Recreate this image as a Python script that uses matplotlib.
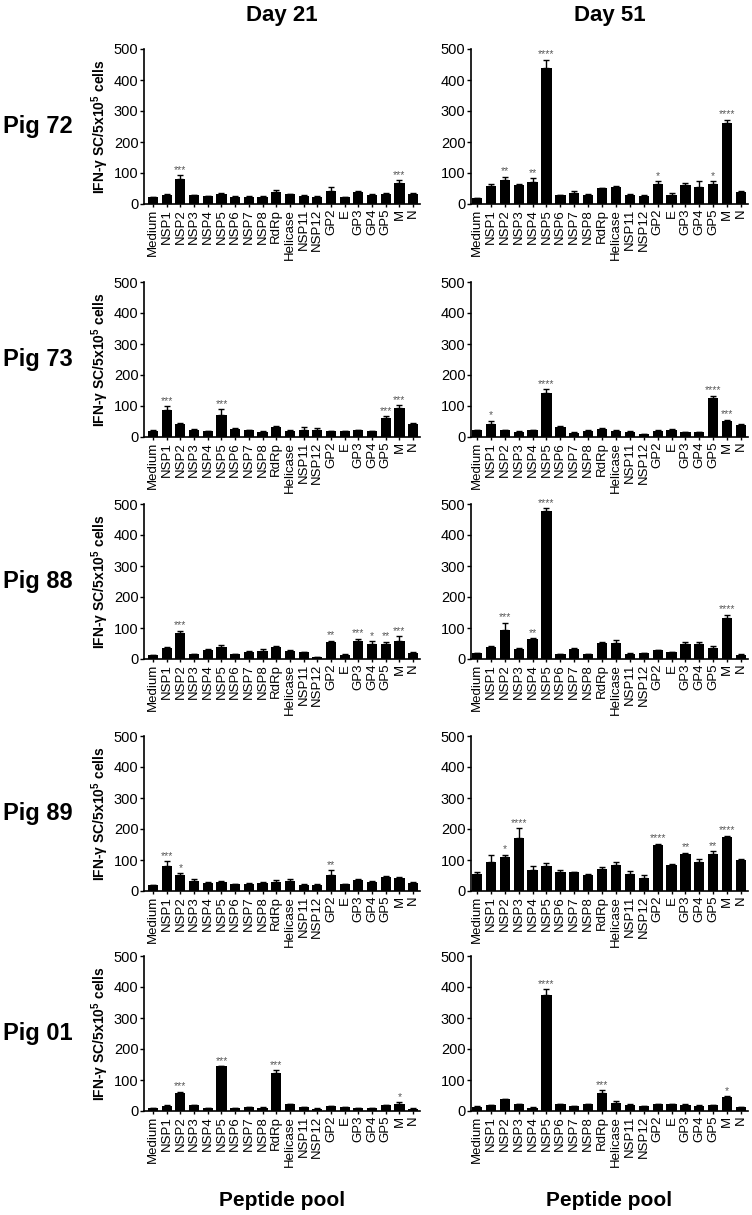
import numpy as np
import matplotlib
matplotlib.use('Agg')
import matplotlib.pyplot as plt

plt.rcParams['font.family'] = ['Liberation Sans', 'DejaVu Sans']
plt.rcParams['mathtext.fontset'] = 'custom'
plt.rcParams['mathtext.rm'] = 'Liberation Sans'
plt.rcParams['mathtext.bf'] = 'Liberation Sans:bold'

pools = ['Medium', 'NSP1', 'NSP2', 'NSP3', 'NSP4', 'NSP5', 'NSP6', 'NSP7', 'NSP8',
         'RdRp', 'Helicase', 'NSP11', 'NSP12', 'GP2', 'E', 'GP3', 'GP4', 'GP5', 'M', 'N']
pigs = ['Pig 72', 'Pig 73', 'Pig 88', 'Pig 89', 'Pig 01']
days = ['Day 21', 'Day 51']

# Pig 72
pig72_d21     = [22, 30, 80, 28, 25, 33, 24, 24, 24, 40, 31, 26, 24, 42, 21, 40, 30, 32, 68, 33]
pig72_d21_err = [2, 3, 12, 2, 2, 4, 2, 1, 1, 5, 2, 2, 2, 12, 2, 3, 3, 2, 8, 3]
pig72_d21_sig = {'NSP2': '***', 'M': '***'}
pig72_d51     = [18, 58, 78, 60, 71, 440, 28, 34, 30, 50, 55, 28, 25, 65, 29, 61, 55, 66, 260, 38]
pig72_d51_err = [1, 5, 10, 5, 12, 25, 2, 7, 3, 3, 4, 3, 3, 8, 8, 8, 18, 8, 12, 3]
pig72_d51_sig = {'NSP2': '**', 'NSP4': '**', 'NSP5': '****', 'GP2': '*', 'GP5': '*', 'M': '****'}

# Pig 73
pig73_d21     = [20, 88, 42, 24, 18, 72, 27, 22, 16, 33, 20, 22, 22, 18, 18, 22, 18, 62, 95, 42]
pig73_d21_err = [2, 12, 2, 2, 2, 18, 2, 2, 2, 2, 2, 10, 8, 1, 1, 2, 2, 6, 8, 3]
pig73_d21_sig = {'NSP1': '***', 'NSP5': '***', 'GP5': '***', 'M': '***'}
pig73_d51     = [21, 42, 22, 17, 22, 142, 31, 14, 20, 27, 20, 16, 9, 19, 22, 15, 16, 125, 52, 38]
pig73_d51_err = [2, 10, 2, 1, 2, 12, 3, 2, 2, 2, 3, 2, 1, 2, 3, 1, 1, 8, 4, 3]
pig73_d51_sig = {'NSP1': '*', 'NSP5': '****', 'GP5': '****', 'M': '***'}

# Pig 88
pig88_d21     = [13, 37, 83, 16, 30, 38, 16, 23, 25, 38, 26, 22, 5, 56, 14, 58, 48, 48, 58, 20]
pig88_d21_err = [1, 2, 8, 1, 1, 7, 1, 3, 6, 4, 4, 2, 1, 3, 1, 8, 10, 8, 15, 2]
pig88_d21_sig = {'NSP2': '***', 'GP2': '**', 'GP3': '***', 'GP4': '*', 'GP5': '**', 'M': '***'}
pig88_d51     = [19, 40, 92, 32, 64, 479, 16, 32, 16, 52, 51, 17, 19, 28, 22, 49, 48, 35, 133, 14]
pig88_d51_err = [1, 3, 25, 3, 3, 8, 1, 2, 1, 2, 10, 1, 1, 2, 1, 7, 6, 6, 10, 1]
pig88_d51_sig = {'NSP2': '***', 'NSP4': '**', 'NSP5': '****', 'M': '****'}

# Pig 89
pig89_d21     = [18, 82, 51, 32, 27, 30, 22, 23, 25, 30, 33, 20, 19, 53, 22, 35, 30, 45, 42, 27]
pig89_d21_err = [2, 15, 6, 8, 3, 1, 1, 2, 4, 4, 7, 1, 3, 15, 2, 3, 3, 5, 3, 2]
pig89_d21_sig = {'NSP1': '***', 'NSP2': '*', 'GP2': '**'}
pig89_d51     = [55, 92, 110, 172, 68, 80, 62, 60, 52, 72, 83, 56, 41, 150, 83, 119, 94, 119, 173, 100]
pig89_d51_err = [5, 25, 7, 30, 12, 10, 6, 2, 2, 6, 10, 7, 10, 2, 5, 5, 10, 9, 6, 2]
pig89_d51_sig = {'NSP2': '*', 'NSP3': '****', 'GP2': '****', 'GP3': '**', 'GP5': '**', 'M': '****'}

# Pig 01
pig01_d21     = [9, 17, 59, 18, 9, 144, 9, 13, 11, 122, 23, 13, 8, 15, 12, 10, 10, 18, 24, 8]
pig01_d21_err = [1, 3, 3, 1, 1, 1, 1, 1, 1, 10, 1, 1, 1, 1, 1, 1, 1, 2, 4, 1]
pig01_d21_sig = {'NSP2': '***', 'NSP5': '***', 'RdRp': '***', 'M': '*'}
pig01_d51     = [14, 18, 38, 22, 10, 375, 23, 15, 21, 57, 27, 20, 15, 21, 21, 19, 17, 18, 45, 12]
pig01_d51_err = [1, 2, 2, 2, 3, 18, 1, 1, 2, 10, 6, 1, 1, 1, 1, 2, 1, 1, 3, 1]
pig01_d51_sig = {'NSP5': '****', 'RdRp': '***', 'M': '*'}

panels = [
    [(pig72_d21, pig72_d21_err, pig72_d21_sig), (pig72_d51, pig72_d51_err, pig72_d51_sig)],
    [(pig73_d21, pig73_d21_err, pig73_d21_sig), (pig73_d51, pig73_d51_err, pig73_d51_sig)],
    [(pig88_d21, pig88_d21_err, pig88_d21_sig), (pig88_d51, pig88_d51_err, pig88_d51_sig)],
    [(pig89_d21, pig89_d21_err, pig89_d21_sig), (pig89_d51, pig89_d51_err, pig89_d51_sig)],
    [(pig01_d21, pig01_d21_err, pig01_d21_sig), (pig01_d51, pig01_d51_err, pig01_d51_sig)],
]

W, H = 752, 1215
fig = plt.figure(figsize=(W / 100, H / 100), dpi=100)

col_left  = [144, 471]       # px of y-axis
col_width = [276, 277]
col_xlim  = [(-0.66, 19.5), (-0.43, 19.5)]
row_top   = [49, 282, 504, 736, 956]   # px of the 500 tick
row_h     = 155

x = np.arange(len(pools))
for r in range(5):
    for c in range(2):
        vals, errs, sig = panels[r][c]
        ax = fig.add_axes([col_left[c] / W, 1 - (row_top[r] + row_h) / H,
                           col_width[c] / W, row_h / H])
        ax.bar(x, vals, width=0.74, color='black', zorder=2)
        ax.errorbar(x, vals, yerr=[np.zeros(len(vals)), errs], fmt='none',
                    ecolor='black', elinewidth=1.0, capsize=2.5, capthick=1.0, zorder=3)
        for name, stars in sig.items():
            i = pools.index(name)
            ax.text(i, vals[i] + errs[i] + 1, stars, ha='center', va='bottom',
                    fontsize=7.5, color='0.35')
        ax.set_ylim(0, 500)
        ax.set_xlim(*col_xlim[c])
        ax.set_yticks(np.arange(0, 501, 100))
        ax.set_xticks(x)
        ax.set_xticklabels(pools, rotation=90, fontsize=9.5)
        ax.tick_params(axis='y', labelsize=10.5, length=3, width=1, pad=1)
        ax.tick_params(axis='x', length=2.5, width=1, pad=1)
        for s in ['top', 'right']:
            ax.spines[s].set_visible(False)
        for s in ['left', 'bottom']:
            ax.spines[s].set_linewidth(1.2)

        if c == 0:
            yc = 1 - (row_top[r] + row_h / 2) / H
            fig.text(3 / W, yc, pigs[r], ha='left', va='center',
                     fontsize=17, fontweight='bold')
            fig.text(100 / W, yc, r'IFN-γ SC/5x10$^{\mathbf{5}}$ cells', rotation=90,
                     ha='center', va='center', fontsize=10, fontweight='bold')

for c in range(2):
    xc = (col_left[c] + col_width[c] / 2) / W
    fig.text(xc, 1 - 16 / H, days[c], ha='center', va='center',
             fontsize=16, fontweight='bold')
    fig.text(xc, 1 - 1200 / H, 'Peptide pool', ha='center', va='center',
             fontsize=15, fontweight='bold')

fig.savefig('out.png', dpi=100)
